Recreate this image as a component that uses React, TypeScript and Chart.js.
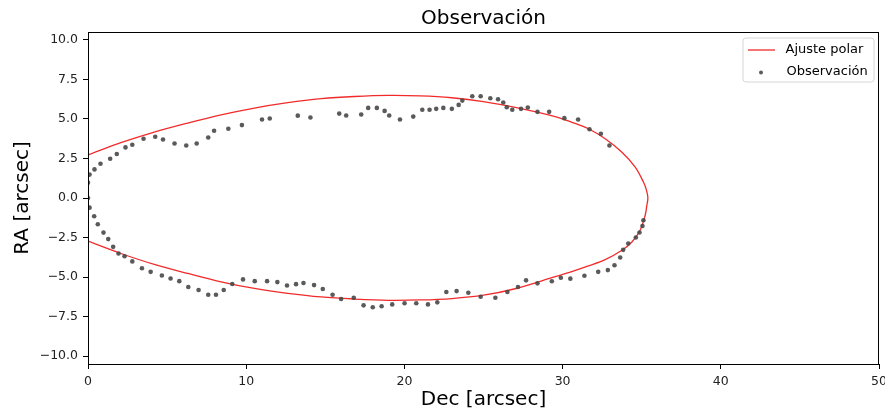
import { useEffect, useRef } from 'react';
import { Chart, registerables } from 'chart.js';

Chart.register(...registerables);

const titleText = 'Observación';
const xLabel = 'Dec [arcsec]';
const yLabel = 'RA [arcsec]';
const fitLabel = 'Ajuste polar';
const obsLabel = 'Observación';

const xTicks = [0, 10, 20, 30, 40, 50];
const yTicks = [-10, -7.5, -5, -2.5, 0, 2.5, 5, 7.5, 10];

// Observed positions (Dec, RA)
const obsDec = [
  0, 0.1, 0.41, 0.79, 1.4, 1.82, 2.37, 2.8, 3.51, 4.25, 4.74, 5.47, 6.21, 6.87, 7.6, 7.97, 8.87, 9.73,
  11.0, 11.49, 13.26, 14.06, 15.88, 16.32, 17.27, 17.71, 18.26, 18.75, 19.04, 19.72, 20.56, 21.13, 21.59,
  22.01, 22.46, 23.0, 23.43, 23.66, 24.29, 24.82, 25.43, 25.92, 26.25, 26.47, 26.82, 27.37, 27.8, 28.41,
  29.15, 30.11, 30.98, 31.7, 32.42, 32.96,
  0, 0.1, 0.39, 0.62, 0.98, 1.28, 1.59, 1.93, 2.31, 2.8, 3.41, 3.96, 4.67, 5.22, 5.77, 6.34, 6.99, 7.6,
  8.09, 8.58, 9.12, 9.8, 10.54, 11.32, 11.97, 12.58, 13.15, 13.62, 14.29, 14.84, 15.46, 16.0, 16.8, 17.42,
  18.0, 18.56, 19.23, 20.01, 20.75, 21.49, 22.08, 22.65, 23.3, 24.04, 24.82, 25.75, 26.51, 27.18, 27.69,
  28.41, 29.32, 29.89, 30.49, 31.38, 32.25, 32.86, 33.28, 33.64, 33.83, 34.15, 34.63, 34.86, 35.05, 35.11,
];
const obsRA = [
  0.97, 1.48, 1.81, 2.17, 2.48, 2.78, 3.2, 3.37, 3.75, 3.87, 3.7, 3.45, 3.32, 3.45, 3.83, 4.25, 4.38, 4.61,
  4.97, 5.03, 5.21, 5.09, 5.34, 5.22, 5.28, 5.7, 5.7, 5.51, 5.22, 4.97, 5.15, 5.58, 5.58,
  5.64, 5.7, 5.64, 5.89, 6.16, 6.44, 6.44, 6.31, 6.25, 6.04, 5.74, 5.58, 5.64, 5.72, 5.45,
  5.45, 5.05, 4.97, 4.35, 4.06, 3.32,
  0, -0.61, -1.15, -1.66, -2.19, -2.6, -3.09, -3.51, -3.68, -4.01, -4.44, -4.67, -4.9, -5.09, -5.26, -5.63, -5.82, -6.12,
  -6.12, -5.82, -5.44, -5.15, -5.26, -5.26, -5.32, -5.53, -5.45, -5.38, -5.51, -5.76, -6.12, -6.39, -6.31, -6.79,
  -6.91, -6.85, -6.73, -6.66, -6.66, -6.73, -6.6, -5.95, -5.89, -5.99, -6.25, -6.31, -5.95, -5.63, -5.21,
  -5.4, -5.27, -5.04, -5.1, -4.92, -4.67, -4.56, -4.25, -3.76, -3.28, -2.88, -2.5, -2.18, -1.77, -1.41,
];

// Fitted orbit curve (top half left->right, then bottom half right->left)
const fitDec = [
  0, 2.08, 4.19, 6.3, 8.41, 10.52, 12.63, 14.74, 16.85, 19.0, 21.0, 23.0, 25.0, 27.0, 29.53, 30.58, 31.63,
  32.69, 33.75, 34.59, 35.11, 35.3, 35.39,
  35.32, 35.22, 34.9, 34.38, 33.75, 32.69, 31.63, 30.58, 29.53, 27.0, 25.0, 23.0, 21.0, 19.0, 16.85,
  14.74, 12.63, 10.52, 8.41, 6.3, 4.19, 2.08, 0,
];
const fitRA = [
  2.72, 3.5, 4.17, 4.74, 5.26, 5.69, 6.03, 6.28, 6.42, 6.49, 6.46, 6.34, 6.1, 5.73, 5.15, 4.79, 4.38,
  3.75, 2.9, 1.96, 1.01, 0.5, 0,
  -0.5, -1.09, -2.04, -2.78, -3.3, -3.9, -4.3, -4.66, -4.98, -5.74, -6.15, -6.36, -6.45, -6.47, -6.39,
  -6.26, -6.03, -5.72, -5.3, -4.77, -4.2, -3.51, -2.73,
];

const FONT = '"DejaVu Sans", sans-serif';
const fitColor = 'rgba(240, 20, 20, 0.9)';
const obsColor = 'rgba(72, 72, 72, 0.9)';

const fmtY = (v: number) => (v < 0 ? '\u2212' : '') + Math.abs(v).toFixed(1);

const decorPlugin = {
  id: 'decor',
  afterDraw(chart: any) {
    const ctx: CanvasRenderingContext2D = chart.ctx;
    const { left, right, top, bottom } = chart.chartArea;
    ctx.save();
    // frame
    ctx.strokeStyle = '#000';
    ctx.lineWidth = 1;
    ctx.strokeRect(Math.round(left) + 0.5, Math.round(top) + 0.5, Math.round(right) - Math.round(left) - 1, Math.round(bottom) - Math.round(top));

    // title
    ctx.fillStyle = '#000';
    ctx.textAlign = 'center';
    ctx.textBaseline = 'alphabetic';
    ctx.font = `20px ${FONT}`;
    ctx.fillText(titleText, (left + right) / 2, 24);

    // x label
    ctx.font = `20px ${FONT}`;
    ctx.fillText(xLabel, (left + right) / 2, 405);

    // y label
    ctx.save();
    ctx.translate(28, (top + bottom) / 2);
    ctx.rotate(-Math.PI / 2);
    ctx.fillText(yLabel, 0, 0);
    ctx.restore();

    // legend
    const bx = right - 136;
    const by = top + 6;
    const bw = 131;
    const bh = 44;
    const r = 3;
    ctx.beginPath();
    ctx.moveTo(bx + r, by);
    ctx.lineTo(bx + bw - r, by);
    ctx.arcTo(bx + bw, by, bx + bw, by + r, r);
    ctx.lineTo(bx + bw, by + bh - r);
    ctx.arcTo(bx + bw, by + bh, bx + bw - r, by + bh, r);
    ctx.lineTo(bx + r, by + bh);
    ctx.arcTo(bx, by + bh, bx, by + bh - r, r);
    ctx.lineTo(bx, by + r);
    ctx.arcTo(bx, by, bx + r, by, r);
    ctx.closePath();
    ctx.fillStyle = 'rgba(255,255,255,0.8)';
    ctx.fill();
    ctx.strokeStyle = '#d6d6d6';
    ctx.lineWidth = 1;
    ctx.stroke();

    ctx.strokeStyle = fitColor;
    ctx.lineWidth = 1.3;
    ctx.beginPath();
    ctx.moveTo(bx + 5, by + 12);
    ctx.lineTo(bx + 32, by + 12);
    ctx.stroke();

    ctx.fillStyle = obsColor;
    ctx.beginPath();
    ctx.arc(bx + 18, by + 34.5, 2, 0, Math.PI * 2);
    ctx.fill();

    ctx.fillStyle = '#000';
    ctx.textAlign = 'left';
    ctx.textBaseline = 'middle';
    ctx.font = `13px ${FONT}`;
    ctx.fillText(fitLabel, bx + 42.5, by + 12);
    ctx.fillText(obsLabel, bx + 43.5, by + 34);
    ctx.restore();
  },
};

export default function App() {
  const ref = useRef<HTMLCanvasElement | null>(null);

  useEffect(() => {
    if (!ref.current) return;
    Chart.defaults.font.family = FONT;
    const chart = new Chart(ref.current, {
      type: 'scatter',
      data: {
        datasets: [
          {
            label: obsLabel,
            data: obsDec.map((x, i) => ({ x, y: obsRA[i] })),
            pointRadius: 2.3,
            pointBackgroundColor: obsColor,
            pointBorderWidth: 0,
            showLine: false,
            order: 0,
          },
          {
            label: fitLabel,
            data: fitDec.map((x, i) => ({ x, y: fitRA[i] })),
            showLine: true,
            pointRadius: 0,
            borderColor: fitColor,
            borderWidth: 1.3,
            tension: 0.35,
            fill: false,
            order: 1,
          } as any,
        ],
      },
      options: {
        responsive: false,
        animation: false,
        devicePixelRatio: 1,
        layout: { padding: { top: 32, right: 6, left: 0, bottom: 0 } },
        plugins: {
          legend: { display: false },
          title: { display: false },
          tooltip: { enabled: false },
        },
        scales: {
          x: {
            type: 'linear',
            min: 0,
            max: 50,
            afterBuildTicks: (s: any) => {
              s.ticks = xTicks.map((v) => ({ value: v }));
            },
            afterFit: (s: any) => {
              s.height = 49;
              s.paddingLeft = 0;
              s.paddingRight = 0;
            },
            grid: { display: true, drawOnChartArea: false, drawTicks: true, tickLength: 5, tickColor: '#000', color: '#000' },
            border: { display: true, color: '#000', width: 1 },
            ticks: {
              color: '#222',
              font: { family: FONT, size: 12.5 },
              padding: 5,
              maxRotation: 0,
              autoSkip: false,
              callback: (v: any) => String(v),
            },
          },
          y: {
            type: 'linear',
            min: -10.5,
            max: 10.5,
            afterBuildTicks: (s: any) => {
              s.ticks = yTicks.map((v) => ({ value: v }));
            },
            afterFit: (s: any) => {
              s.width = 88;
              s.paddingTop = 0;
              s.paddingBottom = 0;
            },
            grid: { display: true, drawOnChartArea: false, drawTicks: true, tickLength: 5, tickColor: '#000', color: '#000' },
            border: { display: true, color: '#000', width: 1 },
            ticks: {
              color: '#222',
              font: { family: FONT, size: 12.5 },
              padding: 5,
              autoSkip: false,
              callback: (v: any) => fmtY(Number(v)),
            },
          },
        },
      },
      plugins: [decorPlugin],
    } as any);
    return () => chart.destroy();
  }, []);

  return (
    <div style={{ position: 'fixed', left: 0, top: 0, width: 885, height: 413, background: '#fff' }}>
      <canvas ref={ref} width={885} height={413} style={{ display: 'block', width: 885, height: 413 }} />
    </div>
  );
}
